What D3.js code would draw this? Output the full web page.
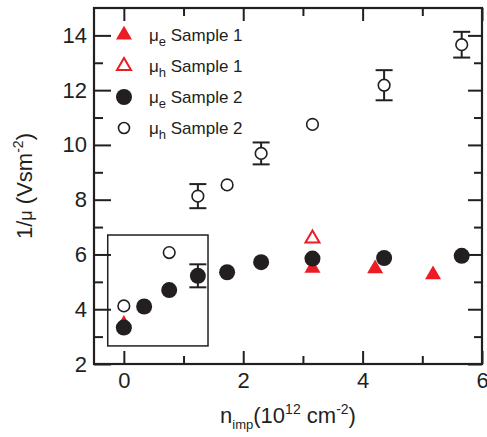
<!DOCTYPE html>
<html>
<head>
<meta charset="utf-8">
<script src="https://cdn.jsdelivr.net/npm/d3@7"></script>
<style>
  body { margin: 0; background: #fff; }
  text { font-family: "Liberation Sans", Arial, sans-serif; fill: #231f20; }
</style>
</head>
<body>
<div id="container"></div>
<script>
const WIDTH = 487,
  HEIGHT = 437,
  LEFT = 94, RIGHT = 482, TOP = 8, BOTTOM = 364,
  RED = "#ec1c24",
  INK = "#231f20";

// data
const s1eX = [0, 3.16, 4.21, 5.18],
  s1eY = [3.45, 5.50, 5.48, 5.26];
const s1hX = [3.16],
  s1hY = [6.58];
const s2eX = [0, 0.34, 0.76, 1.24, 1.73, 2.30, 3.16, 4.36, 5.66],
  s2eY = [3.33, 4.10, 4.70, 5.22, 5.35, 5.72, 5.85, 5.87, 5.95],
  s2eErr = [0, 0, 0, 0.42, 0, 0, 0, 0, 0];
const s2hX = [0, 0.76, 1.24, 1.73, 2.30, 3.16, 4.36, 5.66],
  s2hY = [4.12, 6.07, 8.13, 8.54, 9.69, 10.75, 12.18, 13.66],
  s2hErr = [0, 0, 0.44, 0, 0.40, 0, 0.55, 0.47];

const xMajor = [0, 2, 4, 6], xMinor = [1, 3, 5];
const yMajor = [2, 4, 6, 8, 10, 12, 14], yMinor = [3, 5, 7, 9, 11, 13];
const insetBox = { x0: -0.27, x1: 1.41, y0: 2.66, y1: 6.71 };

const legendItems = ["Sample 1", "Sample 1", "Sample 2", "Sample 2"],
  legendSub = ["e", "h", "e", "h"];

const zip = (xs, ys, es) => xs.map((x, i) => ({ x, y: ys[i], e: es ? es[i] : 0 }));

const svg = d3.select("#container")
  .append("svg")
  .attr("width", WIDTH)
  .attr("height", HEIGHT);

// Scales
const xScale = d3.scaleLinear().domain([-0.5, 6]).range([LEFT, RIGHT]);
const yScale = d3.scaleLinear().domain([2, 15]).range([BOTTOM, TOP]);

function styleAxis(g) {
  g.select(".domain").remove();
  g.selectAll(".tick line").attr("stroke", INK).attr("stroke-width", 2);
  g.selectAll(".tick text").style("font-size", "22px").attr("fill", INK);
}

// major + minor ticks, all pointing inwards
svg.append("g").attr("transform", `translate(0,${BOTTOM})`)
  .call(d3.axisBottom(xScale).tickValues(xMajor).tickSize(-13).tickPadding(8).tickFormat(d3.format("d")))
  .call(styleAxis);
svg.append("g").attr("transform", `translate(0,${BOTTOM})`)
  .call(d3.axisBottom(xScale).tickValues(xMinor).tickSize(-8).tickFormat(""))
  .call(styleAxis);
svg.append("g").attr("transform", `translate(0,${TOP})`)
  .call(d3.axisTop(xScale).tickValues(xMajor).tickSize(-13).tickFormat(""))
  .call(styleAxis);
svg.append("g").attr("transform", `translate(0,${TOP})`)
  .call(d3.axisTop(xScale).tickValues(xMinor).tickSize(-8).tickFormat(""))
  .call(styleAxis);
svg.append("g").attr("transform", `translate(${LEFT},0)`)
  .call(d3.axisLeft(yScale).tickValues(yMajor).tickSize(-17).tickPadding(7).tickFormat(d3.format("d")))
  .call(styleAxis);
svg.append("g").attr("transform", `translate(${LEFT},0)`)
  .call(d3.axisLeft(yScale).tickValues(yMinor).tickSize(-9).tickFormat(""))
  .call(styleAxis);
svg.append("g").attr("transform", `translate(${RIGHT},0)`)
  .call(d3.axisRight(yScale).tickValues(yMajor).tickSize(-14).tickFormat(""))
  .call(styleAxis);
svg.append("g").attr("transform", `translate(${RIGHT},0)`)
  .call(d3.axisRight(yScale).tickValues(yMinor).tickSize(-8).tickFormat(""))
  .call(styleAxis);

// frame
svg.append("rect")
  .attr("x", LEFT).attr("y", TOP)
  .attr("width", RIGHT - LEFT).attr("height", BOTTOM - TOP)
  .attr("fill", "none").attr("stroke", INK).attr("stroke-width", 2.2);

// inset box
svg.append("rect")
  .attr("x", xScale(insetBox.x0)).attr("y", yScale(insetBox.y1))
  .attr("width", xScale(insetBox.x1) - xScale(insetBox.x0))
  .attr("height", yScale(insetBox.y0) - yScale(insetBox.y1))
  .attr("fill", "none").attr("stroke", INK).attr("stroke-width", 1.5);

const tri = d3.symbol().type(d3.symbolTriangle);

// sample 1 electrons (filled red triangles)
svg.selectAll(".s1e")
  .data(zip(s1eX, s1eY))
  .join("path")
  .attr("class", "s1e")
  .attr("d", tri.size(111)())
  .attr("transform", d => `translate(${xScale(d.x)},${yScale(d.y)})`)
  .attr("fill", RED);

// sample 1 holes (open red triangle)
svg.selectAll(".s1h")
  .data(zip(s1hX, s1hY))
  .join("path")
  .attr("class", "s1h")
  .attr("d", tri.size(85)())
  .attr("transform", d => `translate(${xScale(d.x)},${yScale(d.y)})`)
  .attr("fill", "white").attr("stroke", RED).attr("stroke-width", 2);

// error bars
function errorBars(cls, pts) {
  const g = svg.append("g").attr("class", cls);
  const sel = g.selectAll("g").data(pts.filter(d => d.e > 0)).join("g");
  sel.append("line")
    .attr("x1", d => xScale(d.x)).attr("x2", d => xScale(d.x))
    .attr("y1", d => yScale(d.y + d.e)).attr("y2", d => yScale(d.y - d.e));
  [1, -1].forEach(s => {
    sel.append("line")
      .attr("x1", d => xScale(d.x) - 8.5).attr("x2", d => xScale(d.x) + 8.5)
      .attr("y1", d => yScale(d.y + s * d.e)).attr("y2", d => yScale(d.y + s * d.e));
  });
  g.selectAll("line").attr("stroke", INK).attr("stroke-width", 2);
}

const s2e = zip(s2eX, s2eY, s2eErr),
  s2h = zip(s2hX, s2hY, s2hErr);

errorBars("err-s2e", s2e);
errorBars("err-s2h", s2h);

// sample 2 electrons (filled black circles)
svg.selectAll(".s2e")
  .data(s2e)
  .join("circle")
  .attr("class", "s2e")
  .attr("cx", d => xScale(d.x)).attr("cy", d => yScale(d.y))
  .attr("r", 8)
  .attr("fill", INK);

// sample 2 holes (open circles)
svg.selectAll(".s2h")
  .data(s2h)
  .join("circle")
  .attr("class", "s2h")
  .attr("cx", d => xScale(d.x)).attr("cy", d => yScale(d.y))
  .attr("r", 5.8)
  .attr("fill", "white").attr("stroke", INK).attr("stroke-width", 1.6);

// legend
const legend = svg.append("g").attr("class", "legend");
const rowY = [35, 66, 97, 128];
legend.append("path").attr("d", tri.size(111)()).attr("transform", `translate(124,${rowY[0]})`).attr("fill", RED);
legend.append("path").attr("d", tri.size(85)()).attr("transform", `translate(124,${rowY[1]})`)
  .attr("fill", "white").attr("stroke", RED).attr("stroke-width", 2);
legend.append("circle").attr("cx", 124).attr("cy", rowY[2]).attr("r", 8).attr("fill", INK);
legend.append("circle").attr("cx", 124).attr("cy", rowY[3]).attr("r", 5.5)
  .attr("fill", "white").attr("stroke", INK).attr("stroke-width", 1.6);

legendItems.forEach((label, i) => {
  const t = legend.append("text")
    .attr("x", 149).attr("y", rowY[i] + 5.5)
    .style("font-size", "17px");
  t.append("tspan").text("μ");
  t.append("tspan").style("font-size", "13px").attr("dy", 5).text(legendSub[i]);
  t.append("tspan").attr("dy", -5).text(" " + label);
});

// axis titles
const xt = svg.append("text")
  .attr("x", (LEFT + RIGHT) / 2).attr("y", 423)
  .attr("text-anchor", "middle")
  .style("font-size", "22px");
xt.append("tspan").text("n");
xt.append("tspan").style("font-size", "13px").attr("dy", 6).text("imp");
xt.append("tspan").attr("dy", -6).text("(10");
xt.append("tspan").style("font-size", "14px").attr("dy", -9).text("12");
xt.append("tspan").attr("dy", 9).text(" cm");
xt.append("tspan").style("font-size", "14px").attr("dy", -9).text("-2");
xt.append("tspan").attr("dy", 9).text(")");

const yt = svg.append("text")
  .attr("transform", `translate(32,${(TOP + BOTTOM) / 2}) rotate(-90)`)
  .attr("text-anchor", "middle")
  .style("font-size", "22px");
yt.append("tspan").text("1/");
yt.append("tspan").style("font-size", "18px").text("μ");
yt.append("tspan").text(" (Vsm");
yt.append("tspan").style("font-size", "14px").attr("dy", -9).text("-2");
yt.append("tspan").attr("dy", 9).text(")");
</script>
</body>
</html>
